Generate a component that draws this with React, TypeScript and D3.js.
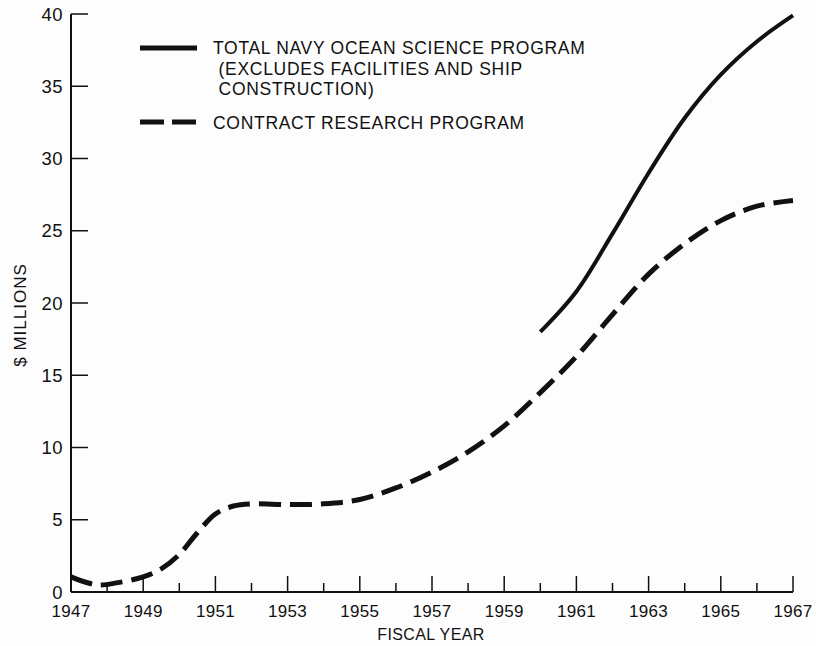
import React, { useEffect, useRef } from 'react';
import * as d3 from 'd3';

// Contract research program ($ millions)
const contractYears = [1947, 1947.7, 1948.3, 1949, 1949.5, 1950, 1950.5, 1951, 1951.5, 1952, 1953, 1954, 1955, 1956, 1957, 1958, 1959, 1960, 1961, 1962, 1963, 1964, 1965, 1966, 1967];
const contractValues = [1.05, 0.5, 0.65, 1.05, 1.6, 2.6, 4.1, 5.4, 5.95, 6.1, 6.05, 6.1, 6.4, 7.2, 8.3, 9.7, 11.5, 13.8, 16.3, 19.2, 22.0, 24.1, 25.7, 26.7, 27.1];

// Total navy ocean science program ($ millions)
const totalYears = [1960, 1961, 1962, 1963, 1964, 1965, 1966, 1967];
const totalValues = [18.0, 20.8, 24.8, 29.0, 32.8, 35.8, 38.1, 39.9];

const yTicks = [0, 5, 10, 15, 20, 25, 30, 35, 40];
const xLabelYears = [1947, 1949, 1951, 1953, 1955, 1957, 1959, 1961, 1963, 1965, 1967];
const allYears = d3.range(1947, 1968);

const legendLines = [
  'TOTAL NAVY OCEAN SCIENCE PROGRAM',
  ' (EXCLUDES FACILITIES AND SHIP',
  ' CONSTRUCTION)',
];
const contractLabel = 'CONTRACT RESEARCH PROGRAM';

const FONT = '"Liberation Sans", Arial, sans-serif';

const App: React.FC = () => {
  const chartRef = useRef<SVGSVGElement>(null);

  useEffect(() => {
    const svg = d3.select(chartRef.current!);
    svg.selectAll('*').remove();

    const x = d3.scaleLinear().domain([1947, 1967]).range([71, 793]);
    const y = d3.scaleLinear().domain([0, 40]).range([592, 14]);

    svg.append('rect').attr('width', 816).attr('height', 646).attr('fill', '#fdfdfd');

    const ink = '#111';

    // axes lines
    svg.append('line')
      .attr('x1', x(1947)).attr('x2', x(1947))
      .attr('y1', y(0)).attr('y2', y(40))
      .attr('stroke', ink).attr('stroke-width', 2);
    svg.append('line')
      .attr('x1', x(1947)).attr('x2', x(1967))
      .attr('y1', y(0)).attr('y2', y(0))
      .attr('stroke', ink).attr('stroke-width', 2);

    // y ticks + labels
    svg.selectAll('.ytick')
      .data(yTicks.filter((d) => d > 0))
      .enter()
      .append('line')
      .attr('x1', x(1947)).attr('x2', x(1947) + 17)
      .attr('y1', (d) => y(d)).attr('y2', (d) => y(d))
      .attr('stroke', ink).attr('stroke-width', 1.5);
    svg.selectAll('.ylab')
      .data(yTicks)
      .enter()
      .append('text')
      .attr('x', 63)
      .attr('y', (d) => y(d))
      .attr('dy', '0.36em')
      .attr('text-anchor', 'end')
      .attr('font-family', FONT)
      .attr('font-size', 18.5)
      .attr('letter-spacing', 0.5)
      .attr('fill', ink)
      .text((d) => String(d));

    // x ticks (point upward)
    svg.selectAll('.xtick')
      .data(allYears.filter((d) => d > 1947))
      .enter()
      .append('line')
      .attr('x1', (d) => x(d)).attr('x2', (d) => x(d))
      .attr('y1', y(0))
      .attr('y2', (d) => y(0) - ((d - 1947) % 2 === 0 ? 16 : 9))
      .attr('stroke', ink).attr('stroke-width', 1.5);
    svg.selectAll('.xlab')
      .data(xLabelYears)
      .enter()
      .append('text')
      .attr('x', (d) => x(d))
      .attr('y', 617)
      .attr('text-anchor', 'middle')
      .attr('font-family', FONT)
      .attr('font-size', 17)
      .attr('letter-spacing', 0.3)
      .attr('fill', ink)
      .text((d) => String(d));

    svg.append('text')
      .attr('x', 431).attr('y', 640)
      .attr('text-anchor', 'middle')
      .attr('font-family', FONT)
      .attr('font-size', 16)
      .attr('letter-spacing', 0.4)
      .attr('fill', ink)
      .text('FISCAL YEAR');

    svg.append('text')
      .attr('transform', 'translate(26,315) rotate(-90)')
      .attr('text-anchor', 'middle')
      .attr('font-family', FONT)
      .attr('font-size', 17)
      .attr('letter-spacing', 1)
      .attr('fill', ink)
      .text('$ MILLIONS');

    const line = d3
      .line<[number, number]>()
      .x((d) => x(d[0]))
      .y((d) => y(d[1]))
      .curve(d3.curveCatmullRom.alpha(0.5));

    const contract: [number, number][] = contractYears.map((yr, i) => [yr, contractValues[i]]);
    const total: [number, number][] = totalYears.map((yr, i) => [yr, totalValues[i]]);

    svg.append('path')
      .attr('d', line(contract)!)
      .attr('fill', 'none')
      .attr('stroke', ink)
      .attr('stroke-width', 5)
      .attr('stroke-dasharray', '22 9');

    svg.append('path')
      .attr('d', line(total)!)
      .attr('fill', 'none')
      .attr('stroke', ink)
      .attr('stroke-width', 4);

    // legend
    svg.append('line')
      .attr('x1', 140).attr('x2', 197)
      .attr('y1', 48).attr('y2', 48)
      .attr('stroke', ink).attr('stroke-width', 5);
    svg.append('line')
      .attr('x1', 140).attr('x2', 197)
      .attr('y1', 122).attr('y2', 122)
      .attr('stroke', ink).attr('stroke-width', 5)
      .attr('stroke-dasharray', '24 8');

    legendLines.forEach((t, i) => {
      svg.append('text')
        .attr('x', 213)
        .attr('y', 54 + i * 20.5)
        .attr('font-family', FONT)
        .attr('font-size', 17.5)
        .attr('letter-spacing', 0.7)
        .attr('fill', ink)
        .attr('xml:space', 'preserve')
        .style('white-space', 'pre')
        .text(t);
    });
    svg.append('text')
      .attr('x', 213)
      .attr('y', 129)
      .attr('font-family', FONT)
      .attr('font-size', 17.5)
      .attr('letter-spacing', 0.7)
      .attr('fill', ink)
      .text(contractLabel);

    return () => {
      svg.selectAll('*').remove();
    };
  }, []);

  return (
    <svg
      ref={chartRef}
      width={816}
      height={646}
      style={{ position: 'absolute', left: 0, top: 0 }}
    />
  );
};

export default App;
